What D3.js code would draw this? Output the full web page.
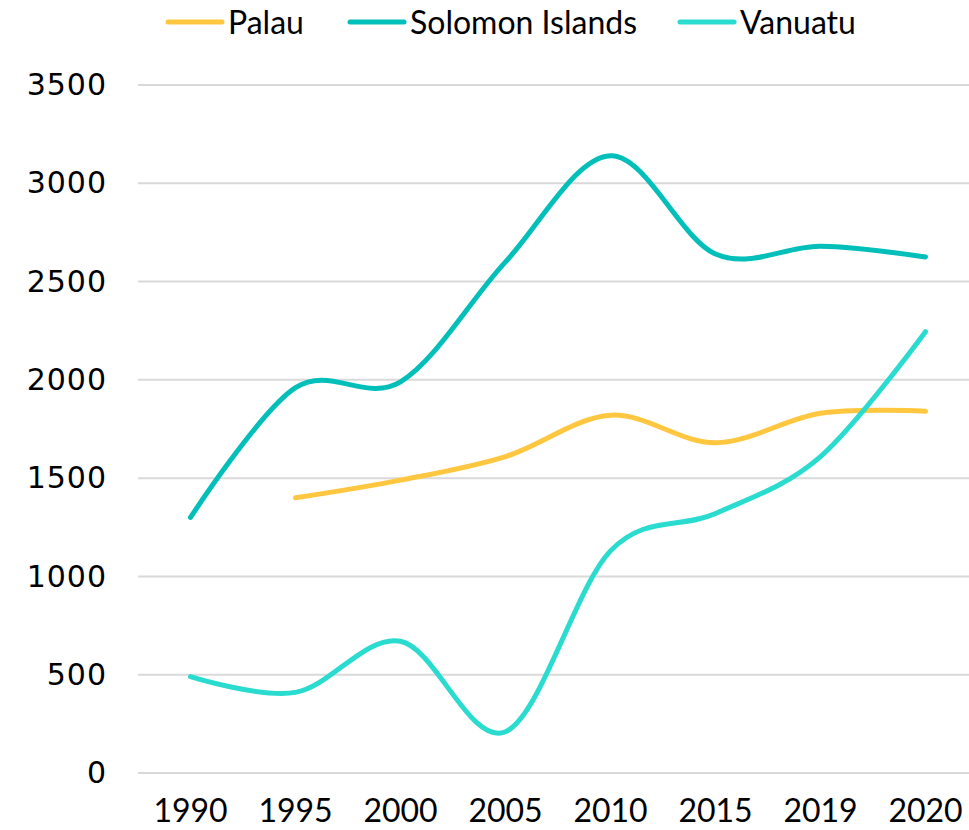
<!DOCTYPE html>
<html>
<head>
<meta charset="utf-8">
<script src="https://cdn.jsdelivr.net/npm/d3@7"></script>
<style>
  body { margin: 0; background: #fff; }
  #chart { width: 969px; height: 830px; overflow: hidden; }
</style>
</head>
<body>
<div id="chart"></div>
<script>
// categories on the x axis (evenly spaced, like the original)
const years = ["1990", "1995", "2000", "2005", "2010", "2015", "2019", "2020"];

// series values, null = no value
const palau = [null, 1400, 1490, 1610, 1820, 1680, 1830, 1840];
const solomon = [1300, 1960, 1990, 2600, 3140, 2640, 2680, 2625];
const vanuatu = [490, 410, 670, 210, 1130, 1320, 1610, 2245];

const seriesNames = ["Palau", "Solomon Islands", "Vanuatu"];
const seriesColors = ["#FFC740", "#03BFBA", "#2ADBD0"];
const yTicks = [0, 500, 1000, 1500, 2000, 2500, 3000, 3500];

let width = 969,
    height = 830;
let margin = {top: 85, right: -9, bottom: 57, left: 138};

let svg = d3.select("#chart").append("svg")
    .attr("width", width)
    .attr("height", height);

let x = d3.scaleBand()
    .domain(years)
    .range([margin.left, width - margin.right]);

let y = d3.scaleLinear()
    .domain([0, 3500])
    .range([height - margin.bottom, margin.top]);

// gridlines
svg.append("g")
    .selectAll("line")
    .data(yTicks)
    .enter()
    .append("line")
    .attr("x1", margin.left)
    .attr("x2", width)
    .attr("y1", d => y(d))
    .attr("y2", d => y(d))
    .attr("stroke", "#d9d9d9")
    .attr("stroke-width", 2);

// y axis labels
let yAxis = svg.append("g")
    .attr("transform", "translate(" + (margin.left - 31) + ",0)")
    .call(d3.axisLeft(y).tickValues(yTicks).tickFormat(d3.format("d")).tickSize(0).tickPadding(0));
yAxis.select(".domain").remove();
yAxis.selectAll("text")
    .attr("font-family", "'DejaVu Sans', sans-serif")
    .attr("font-size", 30)
    .attr("letter-spacing", 1)
    .attr("fill", "#000");

// x axis labels
let xAxis = svg.append("g")
    .attr("transform", "translate(0," + (height - margin.bottom) + ")")
    .call(d3.axisBottom(x).tickSize(0).tickPadding(26));
xAxis.select(".domain").remove();
xAxis.selectAll("text")
    .attr("font-family", "Lato, sans-serif")
    .attr("font-size", 32)
    .attr("fill", "#000");

// lines
let allSeries = [palau, solomon, vanuatu];
let line = d3.line()
    .x(p => x(years[p[0]]) + x.bandwidth() / 2)
    .y(p => y(p[1]))
    .curve(d3.curveCatmullRom.alpha(0));

svg.append("g")
    .selectAll("path")
    .data(allSeries)
    .enter()
    .append("path")
    .attr("d", d => line(d.map((v, i) => [i, v]).filter(p => p[1] != null)))
    .attr("fill", "none")
    .attr("stroke", (d, i) => seriesColors[i])
    .attr("stroke-width", 5)
    .attr("stroke-linecap", "round")
    .attr("stroke-linejoin", "round");

// legend
let legendX = [168, 350, 680];
let legend = svg.append("g")
    .selectAll("g")
    .data(seriesNames)
    .enter()
    .append("g")
    .attr("transform", (d, i) => "translate(" + legendX[i] + ",22)");

legend.append("line")
    .attr("x1", 0)
    .attr("x2", 54)
    .attr("stroke", (d, i) => seriesColors[i])
    .attr("stroke-width", 5)
    .attr("stroke-linecap", "round");

legend.append("text")
    .attr("x", 60)
    .attr("dy", "0.36em")
    .attr("font-family", "Lato, sans-serif")
    .attr("font-size", 32)
    .attr("fill", "#000")
    .text(d => d);
</script>
</body>
</html>
